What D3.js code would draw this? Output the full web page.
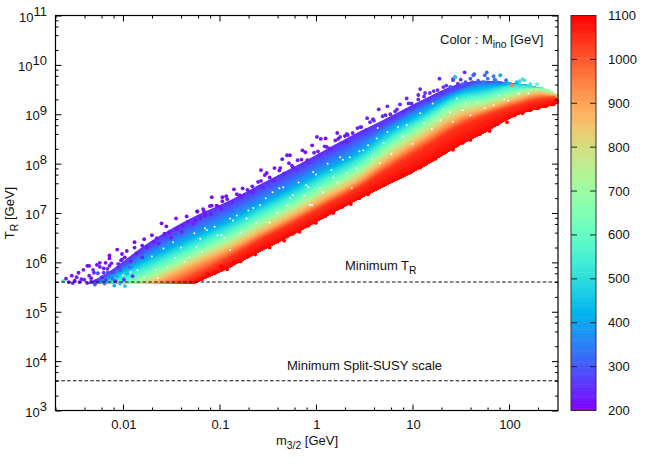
<!DOCTYPE html>
<html><head><meta charset="utf-8">
<script src="https://cdn.jsdelivr.net/npm/d3@7"></script>
<style>html,body{margin:0;padding:0;background:#fff}svg{display:block}text{font-family:"Liberation Sans",Arial,sans-serif;font-size:13px;fill:#111}</style>
</head><body><svg id="c" width="664" height="465"></svg>
<script>
// log10(m3/2 [GeV]) at which the band was read
const bandLogM = [-2.66,-2.24,-1.72,-1.23,-0.89,-0.61,-0.27,0.07,0.46,0.69,1.11,1.49,1.73,2.08,2.32,2.51];
// log10(T_R) of the colour boundaries of the band, per Mino level
const bandLevels = [250,300,400,500,600,700,800,900,1000,1050,1100];
const band250  = [5.40,5.70,6.42,6.96,7.26,7.55,7.89,8.25,8.66,8.88,9.30,9.62,9.68,9.62,9.53,9.38];
const band300  = [5.38,5.66,6.30,6.81,7.11,7.40,7.74,8.10,8.51,8.74,9.20,9.52,9.66,9.62,9.53,9.38];
const band400  = [5.31,5.60,6.14,6.59,6.89,7.18,7.52,7.88,8.29,8.62,9.08,9.46,9.58,9.62,9.53,9.38];
const band500  = [5.17,5.54,6.00,6.45,6.75,7.04,7.38,7.74,8.15,8.48,8.96,9.38,9.46,9.60,9.53,9.38];
const band600  = [5.03,5.40,5.86,6.31,6.61,6.90,7.24,7.60,8.01,8.35,8.86,9.28,9.36,9.52,9.53,9.38];
const band700  = [4.91,5.28,5.74,6.19,6.49,6.78,7.12,7.48,7.89,8.23,8.75,9.18,9.26,9.45,9.53,9.38];
const band800  = [4.81,5.18,5.64,6.09,6.39,6.68,7.02,7.38,7.79,8.12,8.63,9.06,9.18,9.38,9.47,9.38];
const band900  = [4.70,5.07,5.53,5.98,6.28,6.57,6.91,7.27,7.68,8.00,8.51,8.94,9.08,9.30,9.41,9.38];
const band1000 = [4.60,4.97,5.38,5.82,6.16,6.47,6.81,7.17,7.58,7.88,8.38,8.82,9.00,9.22,9.34,9.36];
const band1050 = [4.54,4.91,5.30,5.72,6.08,6.41,6.75,7.11,7.52,7.80,8.29,8.74,8.93,9.16,9.28,9.32];
const band1100 = [4.32,4.69,5.15,5.60,5.90,6.19,6.53,6.89,7.30,7.52,7.93,8.37,8.61,8.98,9.12,9.22];
const bandRows = [band250,band300,band400,band500,band600,band700,band800,band900,band1000,band1050,band1100];

// individually read points outside the band
const pointLogM = [-2.59,-2.53,-2.50,-2.52,-2.45,-2.46,-2.37,-2.35,-2.40,-2.37,-2.30,-2.24,-2.24,-2.20,-2.16,-2.14,-2.14,-2.24,-2.11,-2.09,-2.03,-2.05,-2.01,-2.16,-2.33,-2.29,-2.19,-1.98,
-2.35,-2.27,-2.18,-2.14,-2.06,-1.96,-2.01,-1.88,-1.78,-1.70,-1.60,-1.55,-1.45,-1.34,-1.52,-1.23,-1.08,-0.97,-1.88,-2.02,-1.80,-1.65,-1.38,-1.25,-1.15,-1.02,
-1.08,-1.23,-0.93,-0.85,-0.76,-0.66,-0.57,-0.53,-0.57,-0.43,-0.35,-0.30,-0.27,-0.28,-0.19,-0.14,-0.11,-0.04,0.01,0.05,0.10,0.02,0.11,0.22,0.30,0.23,0.38,-0.51,-0.79,-0.97,-1.10,-1.17,-0.37,-0.24,-0.09,0.14,0.32,
0.32,0.25,0.53,0.46,0.59,0.65,0.74,0.82,0.87,0.94,0.99,1.08,1.06,1.13,1.18,1.28,1.26,1.32,1.39,1.44,1.42,1.47,0.69,0.43,0.56,0.77,
1.54,1.64,1.63,1.77,1.75,1.84,1.86,1.91,1.97,1.99,1.44,1.42,1.47,1.52,1.40,1.62,1.74,1.87,1.95,2.08,2.14,2.16,2.22,2.29,2.34,2.41,2.44,2.50,2.03,2.11,
-2.62,-2.56,-2.48,-2.43,-2.41,-2.33,-2.31,-2.28,-2.26,-2.22,-2.18,-2.15,-2.10,-2.08,-2.06,-2.03,-1.99,-1.96,-1.93,-1.90];
const pointLogT = [5.67,5.73,5.63,5.58,5.60,5.79,5.93,5.73,5.65,5.58,5.79,5.91,5.64,5.79,5.87,5.93,6.08,5.99,5.67,5.53,5.57,5.97,6.06,5.79,5.61,5.55,5.57,5.52,
5.93,5.95,5.99,6.14,6.26,6.23,6.17,6.41,6.47,6.55,6.79,6.73,6.89,6.93,6.61,7.03,7.15,7.32,6.30,6.04,6.34,6.49,6.75,6.85,6.95,7.14,
7.32,7.03,7.34,7.48,7.50,7.54,7.87,7.77,7.65,7.91,8.09,8.17,8.17,8.01,8.07,8.27,8.23,8.37,8.54,8.50,8.51,8.25,8.34,8.62,8.56,8.50,8.62,7.81,7.36,7.24,7.14,7.08,7.91,7.93,8.07,8.31,8.44,
8.60,8.54,8.92,8.74,8.90,9.10,9.16,9.06,9.20,9.32,9.22,9.51,9.39,9.43,9.43,9.72,9.49,9.55,9.55,9.75,9.71,9.62,8.96,8.72,8.84,9.00,
9.85,9.81,9.79,9.85,9.79,9.77,9.69,9.79,9.69,9.63,9.75,9.69,9.59,9.61,9.55,9.65,9.65,9.61,9.61,9.65,9.71,9.69,9.61,9.61,9.53,9.47,9.43,9.37,9.59,9.67,
5.62,5.60,5.70,5.66,5.85,5.68,5.85,5.62,5.78,5.70,5.64,5.72,5.80,5.62,5.72,5.85,5.65,5.78,5.90,5.72];
const pointMino = [215,215,215,230,230,225,215,230,240,250,240,220,300,260,250,230,210,215,330,430,450,240,235,280,260,290,350,470,
215,215,215,210,215,220,220,210,215,215,210,215,210,210,220,210,210,215,230,225,225,225,225,220,220,220,
215,215,215,215,220,220,210,215,225,215,220,225,210,225,225,215,215,210,215,215,215,230,225,215,215,230,225,220,225,215,215,215,225,225,230,225,225,
235,235,240,240,240,240,245,240,240,245,245,235,245,250,250,250,250,250,250,250,250,250,255,240,240,240,250,
300,320,320,330,350,350,400,330,440,470,270,270,300,300,290,350,380,420,450,530,520,530,600,620,680,800,850,950,500,540,
215,220,225,230,220,250,225,280,235,260,330,280,250,430,300,250,450,320,260,380];

// points straddling the upper edge of the band
const edgeLogM = [-2.20,-2.12,-2.05,-1.98,-1.92,-1.86,-1.80,-1.75,-1.68,-1.63,-1.57,-1.50,-1.44,-1.39,-1.33,-1.27,-1.20,-1.16,-1.09,-1.03,-0.98,-0.92,-0.87,-0.82,-0.77,-0.71,-0.65,-0.60,-0.55,-0.48,-0.44,-0.38,-0.33,-0.25,-0.20,-0.15,-0.08,-0.02,0.04,0.09,0.16,0.20,0.27,0.33,0.40,0.47,0.52,0.60,0.66,0.72,0.78,0.84,0.90,0.96,1.02,1.06,1.12,1.17,1.22,1.30,1.35,1.43,1.50,1.55,1.60,1.68,1.78,1.85];
const edgeLogT = [5.88,5.98,5.90,6.10,6.02,6.18,6.10,6.30,6.42,6.38,6.58,6.50,6.68,6.62,6.82,6.78,6.90,7.03,6.98,7.15,7.08,7.28,7.22,7.38,7.32,7.47,7.42,7.63,7.52,7.72,7.65,7.86,7.80,7.96,7.90,8.08,8.03,8.22,8.18,8.35,8.30,8.47,8.42,8.58,8.55,8.74,8.68,8.87,8.80,8.98,8.92,9.10,9.04,9.22,9.16,9.30,9.36,9.28,9.47,9.42,9.58,9.52,9.70,9.65,9.72,9.68,9.72,9.70];
const edgeMino = [220,225,240,220,235,225,240,225,225,235,220,235,225,240,225,235,225,220,240,225,235,225,240,225,240,225,240,225,245,225,240,225,240,230,245,230,245,230,245,230,245,230,250,235,250,235,250,235,255,240,255,240,255,245,260,250,245,265,250,270,255,280,270,285,300,320,340,350];

// points along the lower edge of the band
const lowLogM = [-1.18,-1.12,-1.05,-0.98,-0.92,-0.85,-0.78,-0.70,-0.63,-0.56,-0.48,-0.40,-0.33,-0.24,-0.17,-0.08,0.00,0.10,0.18,0.27,0.36,0.45,0.54,0.62,0.72,0.80,0.90,0.98,1.08,1.16,1.24,1.33,1.42,1.52,1.60,1.70,1.80,1.88,1.98,2.06,2.14,2.22,2.30,2.38,2.46,2.50];
const lowLogT = [5.66,5.76,5.78,5.92,5.86,6.00,6.02,6.12,6.16,6.28,6.30,6.42,6.44,6.58,6.62,6.74,6.80,6.94,7.00,7.12,7.18,7.30,7.38,7.48,7.58,7.66,7.78,7.82,7.92,8.04,8.10,8.22,8.28,8.42,8.48,8.60,8.66,8.80,8.84,8.98,9.02,9.08,9.12,9.16,9.20,9.26];
const lowMino = 1100;

// small gaps in the cloud
const gapLogM = [-0.86,-0.89,-0.08,-0.10,-0.03,-0.45,-1.15,-0.98,-1.24,-0.89,-0.06,-0.27,-0.58,-0.65,-0.72,-0.48,0.16,0.22,0.32,0.07,0.25,0.63,0.66,0.85,0.37,-0.04,-0.34,-0.24,0.49,1.08,1.21,0.74,0.64,0.54,0.35,0.94,1.29,1.39,1.52,1.67,1.84,1.99,1.46,-1.48,-1.26,-1.13,-1.31,-1.54,-1.64,-1.46,-1.78,-1.02,-1.85,-2.00,
-1.92,-1.70,-1.66,-1.58,-1.40,-1.36,-1.20,-1.18,-1.05,-0.95,-0.82,-0.78,-0.70,-0.62,-0.52,-0.40,-0.38,-0.30,-0.18,-0.12,0.00,0.04,0.12,0.18,0.28,0.42,0.45,0.58,0.70,0.78,0.90,1.00,1.12,1.20,1.32,1.42,1.55,1.60,1.75,1.90,1.95,2.10,2.20];
const gapLogT = [6.85,6.89,7.52,7.56,7.83,7.42,6.69,6.55,6.31,6.25,7.16,7.30,7.16,7.10,6.89,6.81,7.87,7.62,7.81,7.42,8.13,8.51,8.01,8.74,7.50,7.16,7.52,7.36,8.27,9.02,9.22,8.64,8.72,8.37,8.13,8.78,8.88,9.04,9.08,9.24,9.18,9.28,9.32,6.41,6.59,6.65,6.11,5.90,5.68,6.09,5.70,6.55,5.84,5.74,
5.80,6.12,5.85,6.28,6.30,6.02,6.48,6.22,6.72,6.50,6.95,6.60,7.05,6.80,7.30,7.00,7.50,7.15,7.62,7.35,7.78,7.50,8.00,7.72,8.08,7.90,8.25,8.10,8.42,8.20,8.55,8.40,8.82,8.70,9.10,8.85,9.22,8.98,9.12,9.38,9.30,9.42,9.42];

const xMajorValues = [0.01,0.1,1,10,100];
const xMajorLabels = ["0.01","0.1","1","10","100"];
const xMinorValues = [0.002,0.004,0.006,0.008,0.02,0.04,0.06,0.08,0.2,0.4,0.6,0.8,2,4,6,8,20,40,60,80,200];
const yExponents = [3,4,5,6,7,8,9,10,11];
const yMinorMultipliers = [2,4,6,8];
const colorTicks = [200,300,400,500,600,700,800,900,1000,1100];
const minTR = 4e5, minSplit = 4e3;

const svg = d3.select("#c");
const L=55.5,R=558,T=15.5,B=410.5;
const x = d3.scaleLog().domain([0.002,322]).range([L,R]);
const y = d3.scaleLog().domain([1e3,1e11]).range([B,T]);
const palette = m => { const t=(m-200)/900;
  const c=v=>Math.round(255*Math.max(0,Math.min(1,v)));
  return `rgb(${c(Math.abs(2*t-.5))},${c(Math.sin(Math.PI*t))},${c(Math.cos(Math.PI*t/2))})`; };
const px = v => x(Math.pow(10,v)), py = v => y(Math.pow(10,v));

svg.append("defs").append("clipPath").attr("id","band").append("rect")
  .attr("x",L).attr("width",R-L).attr("y",T).attr("height",y(minTR)+1.5-T);

// colour band: painted from the lowest level upward, each level reaching the lower edge
const bandG = svg.append("g").attr("clip-path","url(#band)");
const area = d3.area().x(d=>px(d.m)).y0(d=>py(d.lo)).y1(d=>py(d.hi)).curve(d3.curveMonotoneX);
const lower = bandRows[bandRows.length-1];
for(let i=0;i<bandRows.length-1;i++){
  const steps=6;
  for(let s=0;s<steps;s++){
    const f=s/steps;
    const lvl=bandLevels[i]+(bandLevels[i+1]-bandLevels[i])*f;
    const rows=bandLogM.map((m,k)=>({m,lo:lower[k],hi:bandRows[i][k]+(bandRows[i+1][k]-bandRows[i][k])*f}));
    bandG.append("path").attr("d",area(rows)).attr("fill",palette(lvl));
  }
}
// gaps, then individual points
svg.append("g").selectAll("circle").data(gapLogM.map((m,i)=>[m,gapLogT[i]])).join("circle")
  .attr("cx",d=>px(d[0])).attr("cy",d=>py(d[1])).attr("r",1).attr("fill","#fff");
const pts = pointLogM.map((m,i)=>({m,t:pointLogT[i],c:pointMino[i]}))
  .concat(edgeLogM.map((m,i)=>({m,t:edgeLogT[i],c:edgeMino[i]})))
  .sort((a,b)=>a.c-b.c)
  .concat(lowLogM.map((m,i)=>({m,t:lowLogT[i],c:lowMino})));
svg.append("g").selectAll("circle").data(pts).join("circle")
  .attr("cx",d=>px(d.m)).attr("cy",d=>py(d.t)).attr("r",1.9).attr("fill",d=>palette(d.c));

// reference lines
[minTR,minSplit].forEach(v=>svg.append("line").attr("x1",L).attr("x2",R).attr("y1",y(v)).attr("y2",y(v))
  .attr("stroke","#111").attr("stroke-width",1).attr("stroke-dasharray","3.6,2.2"));

// axes
const yMajors=yExponents.map(e=>Math.pow(10,e));
const yMinors=yExponents.slice(0,-1).flatMap(e=>yMinorMultipliers.map(k=>k*Math.pow(10,e)));
function ax(gen,tx,ty,vals,len){
  const g=svg.append("g").attr("transform",`translate(${tx},${ty})`)
    .call(gen.tickValues(vals).tickSize(len).tickSizeOuter(0).tickFormat(""));
  g.select(".domain").remove();
  g.selectAll("line").attr("stroke","#000").attr("stroke-width",1);
  g.selectAll("text").remove();
}
ax(d3.axisTop(x),0,B,xMajorValues,6);ax(d3.axisTop(x),0,B,xMinorValues,3);
ax(d3.axisBottom(x),0,T,xMajorValues,6);ax(d3.axisBottom(x),0,T,xMinorValues,3);
ax(d3.axisRight(y),L,0,yMajors,6);ax(d3.axisRight(y),L,0,yMinors,3);
ax(d3.axisLeft(y),R,0,yMajors,6);ax(d3.axisLeft(y),R,0,yMinors,3);
svg.append("rect").attr("x",L).attr("y",T).attr("width",R-L).attr("height",B-T)
  .attr("fill","none").attr("stroke","#000").attr("stroke-width",1.2);

xMajorValues.forEach((v,i)=>svg.append("text").attr("x",x(v)+1).attr("y",429).attr("text-anchor","middle").text(xMajorLabels[i]));
yExponents.forEach(e=>{
  const t=svg.append("text").attr("x",47).attr("y",y(Math.pow(10,e))+6).attr("text-anchor","end");
  t.append("tspan").text("10");
  t.append("tspan").attr("dy",-5.5).text(e);
});

function sub(px,py,a,b,c,anchor,rot){
  const t=svg.append("text").attr("transform",`translate(${px},${py})`+(rot?` rotate(${rot})`:"")).attr("text-anchor",anchor||"start");
  t.append("tspan").text(a);
  t.append("tspan").attr("dy",3.5).style("font-size","10.4px").text(b);
  if(c) t.append("tspan").attr("dy",-3.5).text(c);
}
sub(14,213,"T","R"," [GeV]","middle",-90);
sub(307,445,"m","3/2"," [GeV]","middle");
sub(440,44,"Color : M","ino"," [GeV]");
sub(345,270,"Minimum T","R","");
svg.append("text").attr("x",287).attr("y",370).text("Minimum Split-SUSY scale");

// colour bar
const CL=571,CR=596;
const cy=d3.scaleLinear().domain([200,1100]).range([B,T]);
svg.append("g").selectAll("rect").data(d3.range(200,1100,5)).join("rect")
  .attr("x",CL).attr("width",CR-CL).attr("y",d=>cy(d+5)).attr("height",d=>cy(d)-cy(d+5)+.5)
  .attr("fill",d=>palette(d+2.5));
colorTicks.forEach(v=>{
  if(v>200&&v<1100){
    svg.append("line").attr("x1",CL).attr("x2",CL+6).attr("y1",cy(v)).attr("y2",cy(v)).attr("stroke","#222");
    svg.append("line").attr("x1",CR-6).attr("x2",CR).attr("y1",cy(v)).attr("y2",cy(v)).attr("stroke","#222");
  }
  svg.append("text").attr("x",608).attr("y",cy(v)+4.5).text(v);
});
svg.append("rect").attr("x",CL).attr("y",T).attr("width",CR-CL).attr("height",B-T).attr("fill","none").attr("stroke","#333").attr("stroke-width",1);
</script></body></html>
